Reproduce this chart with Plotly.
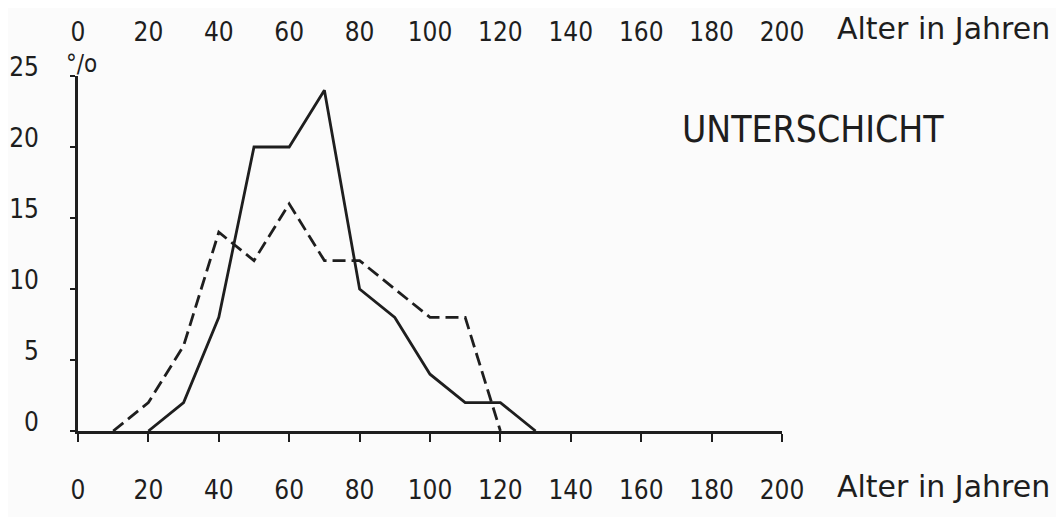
import plotly.graph_objects as go

# Data
ages = [10, 20, 30, 40, 50, 60, 70, 80, 90, 100, 110, 120, 130]
solid_pct = [None, 0, 2, 8, 20, 20, 24, 10, 8, 4, 2, 2, 0]
dashed_pct = [0, 2, 6, 14, 12, 16, 12, 12, 10, 8, 8, 0, None]
x_ticks = [0, 20, 40, 60, 80, 100, 120, 140, 160, 180, 200]
y_ticks = [0, 5, 10, 15, 20, 25]
x_label = "Alter in Jahren"
y_unit = "°/o"
title_text = "UNTERSCHICHT"

ink = "#1e1e1e"
bg = "#fbfbfb"
font_family = "DejaVu Sans Condensed, DejaVu Sans"
label_family = "DejaVu Sans"

fig = go.Figure()
fig.add_trace(go.Scatter(x=ages, y=solid_pct, mode="lines",
                         line=dict(color=ink, width=2.8), connectgaps=False,
                         showlegend=False, hoverinfo="skip"))
fig.add_trace(go.Scatter(x=ages, y=dashed_pct, mode="lines",
                         line=dict(color=ink, width=2.8, dash="13px,6px"),
                         showlegend=False, hoverinfo="skip"))
# invisible trace for top axis
fig.add_trace(go.Scatter(x=[0, 200], y=[None, None], xaxis="x2", showlegend=False,
                         hoverinfo="skip", mode="lines"))

tick_font = dict(family=font_family, size=26, color=ink)

fig.update_layout(
    width=1064, height=517,
    margin=dict(l=70, r=290, t=68, b=94),
    paper_bgcolor=bg, plot_bgcolor=bg,
    font=dict(family=font_family, size=26, color=ink),
    xaxis=dict(range=[0, 200], tickvals=x_ticks, ticktext=[str(v) for v in x_ticks],
               automargin=False,
               showgrid=False, zeroline=False, showline=True, linecolor=ink, linewidth=2.8,
               ticks="outside", ticklen=8, tickwidth=2.4, tickcolor=ink,
               ticklabelstandoff=26, tickfont=tick_font),
    xaxis2=dict(range=[0, 200], overlaying="x", side="top", anchor="y",
                automargin=False,
                tickvals=x_ticks, ticktext=[str(v) for v in x_ticks],
                showgrid=False, zeroline=False, showline=False, ticks="",
                ticklabelstandoff=29, tickfont=tick_font),
    yaxis=dict(range=[0, 25], tickvals=y_ticks, ticktext=[str(v) for v in y_ticks],
               automargin=False,
               showgrid=False, zeroline=False, showline=True, linecolor=ink, linewidth=2.6,
               ticks="outside", ticklen=5, tickwidth=2.2, tickcolor=ink,
               ticklabelstandoff=26, ticklabelshift=-9, tickfont=tick_font),
)

fig.add_annotation(text=x_label, xref="paper", yref="paper", x=1.075, y=1.135,
                   xanchor="left", yanchor="middle", showarrow=False,
                   font=dict(family=label_family, size=30, color=ink))
fig.add_annotation(text=x_label, xref="paper", yref="paper", x=1.075, y=-0.155,
                   xanchor="left", yanchor="middle", showarrow=False,
                   font=dict(family=label_family, size=30, color=ink))
fig.add_annotation(text=title_text, xref="paper", yref="paper", x=0.855, y=0.848,
                   xanchor="left", yanchor="middle", showarrow=False,
                   font=dict(family=font_family, size=37, color=ink))
fig.add_annotation(text=y_unit, xref="paper", yref="paper", x=0.005, y=1.035,
                   xanchor="center", yanchor="middle", showarrow=False,
                   font=dict(family=font_family, size=24, color=ink))

fig.write_html("out.html")
